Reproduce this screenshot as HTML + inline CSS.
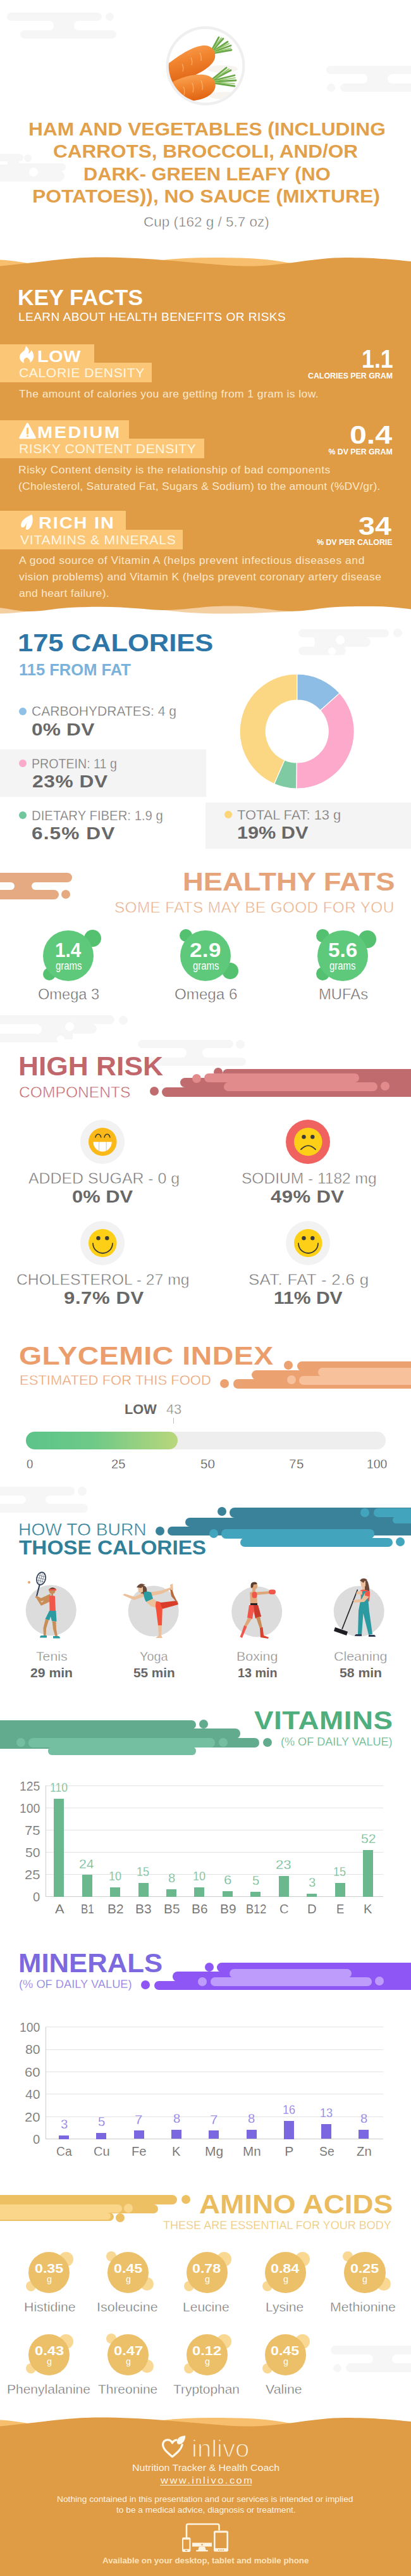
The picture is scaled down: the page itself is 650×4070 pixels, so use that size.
<!DOCTYPE html>
<html><head><meta charset="utf-8"><title>Nutrition facts</title>
<style>
html,body{margin:0;padding:0;background:#fff}
html{overflow-x:hidden}
body{width:650px;height:4070px;font-family:"Liberation Sans", sans-serif}
.page{position:relative;width:650px;height:4070px;overflow:hidden;background:#fff}
div,svg{box-sizing:border-box}
</style></head><body>
<div class="page">
<div style="position:absolute;left:10.7px;top:20.4px;width:149.9px;height:13.0px;background:#f6f6f6;border-radius:6.5px 6.5px 6.5px 6.5px"></div>
<div style="position:absolute;left:167.2px;top:20.3px;width:13.0px;height:13.0px;background:#f6f6f6;border-radius:50%;"></div>
<div style="position:absolute;left:31.6px;top:47.7px;width:152.4px;height:13.1px;background:#f6f6f6;border-radius:6.5px 6.5px 6.5px 6.5px"></div>
<div style="position:absolute;left:77.8px;top:33.4px;width:46.3px;height:14.3px;background:#f6f6f6;"></div>
<div style="position:absolute;left:70.7px;top:33.4px;width:14.3px;height:14.3px;background:#fff;border-radius:50%;"></div>
<div style="position:absolute;left:117.0px;top:33.4px;width:14.3px;height:14.3px;background:#fff;border-radius:50%;"></div>
<div style="position:absolute;left:515.7px;top:103.8px;width:144.3px;height:13.6px;background:#f6f6f6;border-radius:6.8px 6.8px 6.8px 6.8px"></div>
<div style="position:absolute;left:537.6px;top:132.0px;width:122.4px;height:13.0px;background:#f6f6f6;border-radius:6.5px 6.5px 6.5px 6.5px"></div>
<div style="position:absolute;left:516.5px;top:132.1px;width:13.0px;height:13.0px;background:#f6f6f6;border-radius:50%;"></div>
<div style="position:absolute;left:574.1px;top:117.4px;width:46.2px;height:14.6px;background:#f6f6f6;"></div>
<div style="position:absolute;left:566.8px;top:117.4px;width:14.6px;height:14.6px;background:#fff;border-radius:50%;"></div>
<div style="position:absolute;left:613.0px;top:117.4px;width:14.6px;height:14.6px;background:#fff;border-radius:50%;"></div>
<div style="position:absolute;left:-20.0px;top:243.0px;width:57.0px;height:12.0px;background:#f6f6f6;border-radius:6.0px 6.0px 6.0px 6.0px"></div>
<div style="position:absolute;left:38.0px;top:244.0px;width:12.0px;height:12.0px;background:#f6f6f6;border-radius:50%;"></div>
<div style="position:absolute;left:0.0px;top:250.0px;width:30.0px;height:10.0px;background:#f6f6f6;"></div>
<div style="position:absolute;left:-20.0px;top:257.5px;width:123.5px;height:12.5px;background:#f6f6f6;border-radius:6.2px 6.2px 6.2px 6.2px"></div>
<div style="position:absolute;left:-20.0px;top:269.0px;width:122.0px;height:18.0px;background:#f6f6f6;border-radius:9.0px 9.0px 9.0px 9.0px"></div>
<div style="position:absolute;left:0.0px;top:262.0px;width:90.0px;height:12.0px;background:#f6f6f6;"></div>
<div style="position:absolute;left:45.5px;top:264.5px;width:14.0px;height:14.0px;background:#fff;border-radius:50%;"></div>
<div style="position:absolute;left:-10.0px;top:254.5px;width:22.0px;height:5.0px;background:#fff;border-radius:2.5px 2.5px 2.5px 2.5px"></div>
<svg style="position:absolute;left:260.2px;top:39.3px" width="130" height="130" viewBox="0 0 130 130">
<defs>
<clipPath id="cc"><circle cx="65" cy="65" r="58.3"/></clipPath>
<linearGradient id="cg1" x1="0.2" y1="0" x2="0.55" y2="1"><stop offset="0" stop-color="#f8a458"/><stop offset="0.4" stop-color="#f28530"/><stop offset="1" stop-color="#de6211"/></linearGradient>
<linearGradient id="cg2" x1="0.2" y1="0" x2="0.5" y2="1"><stop offset="0" stop-color="#f9a85c"/><stop offset="0.45" stop-color="#f38832"/><stop offset="1" stop-color="#e06412"/></linearGradient>
</defs>
<circle cx="65" cy="65" r="62.5" fill="#efefef"/>
<circle cx="65" cy="65" r="58.3" fill="#fff"/>
<g clip-path="url(#cc)">
 <ellipse cx="92" cy="70" rx="24" ry="6" fill="#f7f4f0"/>
 <ellipse cx="96" cy="112" rx="26" ry="6" fill="#f7f4f0"/>
 <g stroke="#6aa84a" stroke-width="2.8" stroke-linecap="round" fill="none">
  <path d="M75,40 L86,20"/><path d="M76,41 L93,22"/><path d="M77,42 L100,27"/><path d="M77,43 L105,33"/><path d="M77,45 L106,40"/>
 </g>
 <g stroke="#93c766" stroke-width="1.7" stroke-linecap="round" fill="none">
  <path d="M76,40 L90,21"/><path d="M77,42 L102,30"/><path d="M77,44 L105,37"/>
 </g>
 <g stroke="#6aa84a" stroke-width="2.8" stroke-linecap="round" fill="none">
  <path d="M76,86 L98,68"/><path d="M77,87 L105,72"/><path d="M78,88 L111,80"/><path d="M78,90 L113,88"/><path d="M77,92 L111,97"/>
 </g>
 <g stroke="#93c766" stroke-width="1.7" stroke-linecap="round" fill="none">
  <path d="M77,87 L102,70"/><path d="M78,89 L112,84"/><path d="M78,91 L111,93"/>
 </g>
 <path d="M0,66 C14,56 38,36 60,33 C74,31.5 82,41 80,52 C77,67 52,80 22,90 C10,93 0,93 -4,91 Z" fill="url(#cg1)"/>
 <path d="M4,96 C18,86 42,77 62,79 C78,81 84,92 79,103 C73,115 52,122 32,120 C16,118 6,110 4,96 Z" fill="url(#cg2)"/>
 <path d="M28,62 q3,6 1,12 M42,52 q3,6 1,12 M56,44 q3,7 2,13" stroke="#fbbd7e" stroke-width="1.2" fill="none" opacity=".8"/>
 <path d="M30,98 q3,6 1,13 M44,92 q3,7 1,15 M58,88 q3,8 2,15" stroke="#fbbd7e" stroke-width="1.2" fill="none" opacity=".8"/>
</g>
</svg>
<div style="position:absolute;left:44.9px;top:189.8px;font-size:29.0px;line-height:1;white-space:nowrap;color:#e3a04b;font-weight:700;transform:scaleX(1.0921);transform-origin:0 0;">HAM AND VEGETABLES (INCLUDING</div>
<div style="position:absolute;left:83.9px;top:224.8px;font-size:29.0px;line-height:1;white-space:nowrap;color:#e3a04b;font-weight:700;transform:scaleX(1.0866);transform-origin:0 0;">CARROTS, BROCCOLI, AND/OR</div>
<div style="position:absolute;left:132.4px;top:260.8px;font-size:29.0px;line-height:1;white-space:nowrap;color:#e3a04b;font-weight:700;transform:scaleX(1.0603);transform-origin:0 0;">DARK- GREEN LEAFY (NO</div>
<div style="position:absolute;left:51.4px;top:295.8px;font-size:29.0px;line-height:1;white-space:nowrap;color:#e3a04b;font-weight:700;transform:scaleX(1.0973);transform-origin:0 0;">POTATOES)), NO SAUCE (MIXTURE)</div>
<div style="position:absolute;left:226.5px;top:340.6px;font-size:21.5px;line-height:1;white-space:nowrap;color:#707070;font-weight:400;-webkit-text-stroke:0.5px #fff;transform:scaleX(1.0459);transform-origin:0 0;">Cup (162 g / 5.7 oz)</div>
<svg style="position:absolute;left:0px;top:0px" width="650" height="1000" viewBox="0 0 650 1000">
<path d="M0,410.5 C15,411.3 32,413.5 52,417.5 L52,430 L0,430Z" fill="#f7bf6d"/>
<path d="M232,414 C265,409 300,407 332,407 C370,407 405,408 425,410.5 C442,412.5 452,414.5 464,416.5 L464,430 L232,430Z" fill="#f7bf6d"/>
<path d="M0,969.5 C18,969 34,967.5 47,965.5 L47,950 L0,950Z" fill="#f3cfa2"/>
<path d="M255,963.5 C290,968 320,969.5 350,969.5 C390,969.5 430,968 464,965.5 L464,950 L255,950Z" fill="#f3cfa2"/>
<path d="M0,420.5 C20,418.3 40,416 60,414 C90,410 120,407 150,406.5 C215,406 270,412 325,416.5 C352,419 380,421 404,420.5 C450,419 500,407 546,407 C590,407 620,410 650,413
 L650,962.5 C630,960 610,958 590,958 C570,958 555,958 537,958.7 C505,960 490,965.7 462,965.7 C440,965.7 425,962 400,959.5 C380,957.5 365,957.5 349,957.7 C320,958 290,964 258,964 C240,964 230,962 220,961.5 C200,960 180,958.7 160,958.7 C140,958.7 125,959.3 110,960 C85,961.5 70,966 45,966 C30,966 15,962 0,960.3 Z" fill="#e09b45"/>
</svg>
<div style="position:absolute;left:28.4px;top:453.1px;font-size:34.5px;line-height:1;white-space:nowrap;color:#ffffff;font-weight:700;transform:scaleX(1.0265);transform-origin:0 0;">KEY FACTS</div>
<div style="position:absolute;left:28.9px;top:492.3px;font-size:18.0px;line-height:1;white-space:nowrap;color:#ffffff;font-weight:400;letter-spacing:0.41px;transform:scaleX(1.0600);transform-origin:0 0;">LEARN ABOUT HEALTH BENEFITS OR RISKS</div>
<div style="position:absolute;left:0.0px;top:543.5px;width:149.0px;height:30.0px;background:#fcc677;"></div>
<div style="position:absolute;left:0.0px;top:572.9px;width:240.0px;height:31.4px;background:#fcc677;"></div>
<svg style="position:absolute;left:31.4px;top:546px" width="23" height="28" viewBox="0 0 23 28"><path d="M9.8,0.4 C12.5,2.5 14.5,5 14.8,8 C15,10 14.2,11.5 13.6,12.8 C15.8,12 17.5,10 18.3,7.2 C20.5,9.5 22.3,12.5 22.3,16.5 C22.3,21 19.5,25.5 15.8,27.3 C16.8,25.5 16.6,23.5 15.3,22 C14.3,20.8 13,19.8 11.9,18.7 C10,19 8.6,19.8 7.6,21 C6.2,22.7 6,25.5 7.2,27.7 C3.5,26.5 0,23 0,18.3 C0,15 1.5,13 3,11.5 C5,9.5 7.3,8 8.1,6.4 C9,4.6 9.8,2.5 9.8,0.4Z" fill="#fff"/></svg>
<div style="position:absolute;left:58.9px;top:550.5px;font-size:25.5px;line-height:1;white-space:nowrap;color:#ffffff;font-weight:700;letter-spacing:0.60px;transform:scaleX(1.1300);transform-origin:0 0;">LOW</div>
<div style="position:absolute;left:30.4px;top:579.3px;font-size:20.0px;line-height:1;white-space:nowrap;color:#fff6e2;font-weight:400;letter-spacing:0.51px;transform:scaleX(1.0600);transform-origin:0 0;">CALORIE DENSITY</div>
<div style="position:absolute;left:571.7px;top:547.0px;font-size:40.5px;line-height:1;white-space:nowrap;color:#ffffff;font-weight:700;transform:scaleX(0.8831);transform-origin:0 0;">1.1</div>
<div style="position:absolute;left:486.6px;top:588.1px;font-size:12.3px;line-height:1;white-space:nowrap;color:#ffffff;font-weight:700;transform:scaleX(1.0053);transform-origin:0 0;">CALORIES PER GRAM</div>
<div style="position:absolute;left:30.0px;top:614.0px;font-size:16.5px;line-height:1;white-space:nowrap;color:#fce8c8;font-weight:400;letter-spacing:0.39px;transform:scaleX(1.0600);transform-origin:0 0;">The amount of calories you are getting from 1 gram is low.</div>
<div style="position:absolute;left:0.0px;top:663.5px;width:204.2px;height:30.0px;background:#fcc677;"></div>
<div style="position:absolute;left:0.0px;top:692.9px;width:322.5px;height:31.4px;background:#fcc677;"></div>
<svg style="position:absolute;left:30px;top:667.5px" width="27" height="26" viewBox="0 0 27 26"><path d="M13.4,0.3 C14.1,0.3 14.7,0.7 15,1.3 L26.6,22.8 C27.2,24 26.4,25.3 25.1,25.3 L1.9,25.3 C0.6,25.3 -0.2,24 0.4,22.8 L11.8,1.3 C12.1,0.7 12.7,0.3 13.4,0.3Z" fill="#fff"/><rect x="12" y="7.6" width="3" height="11" rx="1.4" fill="#fcc677"/><circle cx="13.5" cy="21" r="1.5" fill="#fcc677"/></svg>
<div style="position:absolute;left:58.9px;top:670.5px;font-size:25.5px;line-height:1;white-space:nowrap;color:#ffffff;font-weight:700;letter-spacing:2.33px;transform:scaleX(1.1300);transform-origin:0 0;">MEDIUM</div>
<div style="position:absolute;left:30.4px;top:699.3px;font-size:20.0px;line-height:1;white-space:nowrap;color:#fff6e2;font-weight:400;letter-spacing:0.52px;transform:scaleX(1.0600);transform-origin:0 0;">RISKY CONTENT DENSITY</div>
<div style="position:absolute;left:553.3px;top:667.0px;font-size:40.5px;line-height:1;white-space:nowrap;color:#ffffff;font-weight:700;transform:scaleX(1.1920);transform-origin:0 0;">0.4</div>
<div style="position:absolute;left:519.5px;top:708.1px;font-size:12.3px;line-height:1;white-space:nowrap;color:#ffffff;font-weight:700;">% DV PER GRAM</div>
<div style="position:absolute;left:28.9px;top:734.0px;font-size:16.5px;line-height:1;white-space:nowrap;color:#fce8c8;font-weight:400;letter-spacing:0.48px;transform:scaleX(1.0600);transform-origin:0 0;">Risky Content density is the relationship of bad components</div>
<div style="position:absolute;left:28.9px;top:760.0px;font-size:16.5px;line-height:1;white-space:nowrap;color:#fce8c8;font-weight:400;letter-spacing:0.24px;transform:scaleX(1.0600);transform-origin:0 0;">(Cholesterol, Saturated Fat, Sugars &amp; Sodium) to the amount (%DV/gr).</div>
<div style="position:absolute;left:0.0px;top:807.3px;width:199.0px;height:30.0px;background:#fcc677;"></div>
<div style="position:absolute;left:0.0px;top:836.7px;width:288.5px;height:31.4px;background:#fcc677;"></div>
<svg style="position:absolute;left:33px;top:813.2px" width="20" height="25" viewBox="0 0 20 25"><path d="M17.5,0 C18.8,4 19.2,9 18.2,13 C17,18 14.5,22 11.5,23.6 C10,24.3 8.5,24 7.7,23 L7.9,20.5 C8.3,17 9.2,14 10.2,11.5 C9,14 7.8,16.3 6.3,18.2 C5.2,19.5 4,20.3 3,20.4 C1.2,20.3 0,19 0,17.3 C0,15 0.6,13 2,10.8 C4.5,7 9,3.5 17.5,0Z" fill="#fff"/></svg>
<div style="position:absolute;left:61.4px;top:813.5px;font-size:25.5px;line-height:1;white-space:nowrap;color:#ffffff;font-weight:700;letter-spacing:1.70px;transform:scaleX(1.1300);transform-origin:0 0;">RICH  IN</div>
<div style="position:absolute;left:31.5px;top:843.3px;font-size:20.0px;line-height:1;white-space:nowrap;color:#fff6e2;font-weight:400;letter-spacing:0.68px;transform:scaleX(1.0600);transform-origin:0 0;">VITAMINS &amp; MINERALS</div>
<div style="position:absolute;left:566.6px;top:811.0px;font-size:40.5px;line-height:1;white-space:nowrap;color:#ffffff;font-weight:700;transform:scaleX(1.1507);transform-origin:0 0;">34</div>
<div style="position:absolute;left:501.0px;top:851.1px;font-size:12.3px;line-height:1;white-space:nowrap;color:#ffffff;font-weight:700;transform:scaleX(1.0052);transform-origin:0 0;">% DV PER CALORIE</div>
<div style="position:absolute;left:30.0px;top:877.0px;font-size:16.5px;line-height:1;white-space:nowrap;color:#fce8c8;font-weight:400;letter-spacing:0.52px;transform:scaleX(1.0600);transform-origin:0 0;">A good source of Vitamin A (helps prevent infectious diseases and</div>
<div style="position:absolute;left:30.0px;top:903.0px;font-size:16.5px;line-height:1;white-space:nowrap;color:#fce8c8;font-weight:400;letter-spacing:0.40px;transform:scaleX(1.0600);transform-origin:0 0;">vision problems) and Vitamin K (helps prevent coronary artery disease</div>
<div style="position:absolute;left:30.0px;top:929.0px;font-size:16.5px;line-height:1;white-space:nowrap;color:#fce8c8;font-weight:400;letter-spacing:0.29px;transform:scaleX(1.0600);transform-origin:0 0;">and heart failure).</div>
<div style="position:absolute;left:472.0px;top:993.6px;width:142.5px;height:13.4px;background:#f6f6f6;border-radius:6.7px 6.7px 6.7px 6.7px"></div>
<div style="position:absolute;left:622.0px;top:993.4px;width:14.0px;height:14.0px;background:#f6f6f6;border-radius:50%;"></div>
<div style="position:absolute;left:505.0px;top:1006.5px;width:81.0px;height:15.0px;background:#f6f6f6;border-radius:7.5px 7.5px 7.5px 7.5px"></div>
<div style="position:absolute;left:497.0px;top:1006.5px;width:48.0px;height:22.0px;background:#f6f6f6;"></div>
<div style="position:absolute;left:472.0px;top:1021.5px;width:75.0px;height:13.5px;background:#f6f6f6;border-radius:6.8px 6.8px 6.8px 6.8px"></div>
<div style="position:absolute;left:530.6px;top:1003.5px;width:14.0px;height:14.0px;background:#fff;border-radius:50%;"></div>
<div style="position:absolute;left:519.4px;top:1023.0px;width:12.0px;height:12.0px;background:#fff;border-radius:50%;"></div>
<div style="position:absolute;left:482.5px;top:1006.5px;width:15.0px;height:15.0px;background:#fff;border-radius:50%;"></div>
<div style="position:absolute;left:27.8px;top:996.3px;font-size:39.0px;line-height:1;white-space:nowrap;color:#2f76a8;font-weight:700;transform:scaleX(1.1151);transform-origin:0 0;">175 CALORIES</div>
<div style="position:absolute;left:29.5px;top:1045.8px;font-size:25.0px;line-height:1;white-space:nowrap;color:#7bb2db;font-weight:700;transform:scaleX(1.0208);transform-origin:0 0;">115 FROM FAT</div>
<div style="position:absolute;left:0.0px;top:1183.5px;width:326.0px;height:75.5px;background:#f4f4f4;"></div>
<div style="position:absolute;left:325.0px;top:1267.5px;width:325.0px;height:73.0px;background:#f4f4f4;"></div>
<div style="position:absolute;left:30.0px;top:1117.6px;width:12.0px;height:12.0px;background:#8fc0e6;border-radius:50%;"></div>
<div style="position:absolute;left:49.5px;top:1113.5px;font-size:21.5px;line-height:1;white-space:nowrap;color:#757575;font-weight:400;-webkit-text-stroke:0.35px #fff;transform:scaleX(0.9792);transform-origin:0 0;">CARBOHYDRATES: 4 g</div>
<div style="position:absolute;left:49.9px;top:1138.8px;font-size:28.0px;line-height:1;white-space:nowrap;color:#686868;font-weight:700;letter-spacing:0.17px;transform:scaleX(1.1300);transform-origin:0 0;">0% DV</div>
<div style="position:absolute;left:30.0px;top:1199.9px;width:12.0px;height:12.0px;background:#fba9ca;border-radius:50%;"></div>
<div style="position:absolute;left:49.6px;top:1196.5px;font-size:21.5px;line-height:1;white-space:nowrap;color:#757575;font-weight:400;-webkit-text-stroke:0.35px #f4f4f4;transform:scaleX(0.9122);transform-origin:0 0;">PROTEIN: 11 g</div>
<div style="position:absolute;left:51.0px;top:1220.8px;font-size:28.0px;line-height:1;white-space:nowrap;color:#686868;font-weight:700;letter-spacing:0.54px;transform:scaleX(1.1300);transform-origin:0 0;">23% DV</div>
<div style="position:absolute;left:30.0px;top:1282.1px;width:12.0px;height:12.0px;background:#6fc79d;border-radius:50%;"></div>
<div style="position:absolute;left:49.6px;top:1278.5px;font-size:21.5px;line-height:1;white-space:nowrap;color:#757575;font-weight:400;-webkit-text-stroke:0.35px #fff;transform:scaleX(0.9453);transform-origin:0 0;">DIETARY FIBER: 1.9 g</div>
<div style="position:absolute;left:49.9px;top:1302.8px;font-size:28.0px;line-height:1;white-space:nowrap;color:#686868;font-weight:700;letter-spacing:0.94px;transform:scaleX(1.1300);transform-origin:0 0;">6.5% DV</div>
<div style="position:absolute;left:354.8px;top:1281.4px;width:12.0px;height:12.0px;background:#fbd577;border-radius:50%;"></div>
<div style="position:absolute;left:375.3px;top:1277.5px;font-size:21.5px;line-height:1;white-space:nowrap;color:#757575;font-weight:400;-webkit-text-stroke:0.35px #f4f4f4;transform:scaleX(1.0152);transform-origin:0 0;">TOTAL FAT: 13 g</div>
<div style="position:absolute;left:374.7px;top:1301.8px;font-size:28.0px;line-height:1;white-space:nowrap;color:#686868;font-weight:700;transform:scaleX(1.0946);transform-origin:0 0;">19% DV</div>
<svg style="position:absolute;left:370px;top:1055px" width="200" height="200" viewBox="0 0 200 200"><path d="M99.70,10.00 A90.5,90.5 0 0 1 167.12,40.13 L136.58,67.48 A49.5,49.5 0 0 0 99.70,51.00Z" fill="#8dbde4" stroke="#fff" stroke-width="1.2"/><path d="M167.12,40.13 A90.5,90.5 0 0 1 98.75,191.00 L99.18,150.00 A49.5,49.5 0 0 0 136.58,67.48Z" fill="#fda9cb" stroke="#fff" stroke-width="1.2"/><path d="M98.75,191.00 A90.5,90.5 0 0 1 63.64,183.51 L79.98,145.90 A49.5,49.5 0 0 0 99.18,150.00Z" fill="#7fcaa3" stroke="#fff" stroke-width="1.2"/><path d="M63.64,183.51 A90.5,90.5 0 0 1 99.70,10.00 L99.70,51.00 A49.5,49.5 0 0 0 79.98,145.90Z" fill="#fbd784" stroke="#fff" stroke-width="1.2"/></svg>
<div style="position:absolute;left:-20.0px;top:1379.0px;width:134.0px;height:15.0px;background:#e5aa82;border-radius:7.5px 7.5px 7.5px 7.5px"></div>
<div style="position:absolute;left:-20.0px;top:1406.0px;width:112.5px;height:15.0px;background:#e5aa82;border-radius:7.5px 7.5px 7.5px 7.5px"></div>
<div style="position:absolute;left:16.5px;top:1394.0px;width:39.5px;height:12.0px;background:#e5aa82;"></div>
<div style="position:absolute;left:10.5px;top:1394.0px;width:12.0px;height:12.0px;background:#fff;border-radius:50%;"></div>
<div style="position:absolute;left:50.0px;top:1394.0px;width:12.0px;height:12.0px;background:#fff;border-radius:50%;"></div>
<div style="position:absolute;left:97.0px;top:1405.5px;width:14.0px;height:14.0px;background:#e5aa82;border-radius:50%;"></div>
<div style="position:absolute;left:288.8px;top:1372.0px;font-size:41.5px;line-height:1;white-space:nowrap;color:#e6a47b;font-weight:700;transform:scaleX(1.0938);transform-origin:0 0;">HEALTHY FATS</div>
<div style="position:absolute;left:180.9px;top:1422.8px;font-size:23.0px;line-height:1;white-space:nowrap;color:#e9ae86;font-weight:400;-webkit-text-stroke:0.5px #fff;letter-spacing:0.31px;transform:scaleX(1.0600);transform-origin:0 0;">SOME FATS MAY BE GOOD FOR YOU</div>
<div style="position:absolute;left:132.8px;top:1469.0px;width:27.2px;height:27.2px;background:#53c170;border-radius:50%;"></div>
<div style="position:absolute;left:67.6px;top:1528.6px;width:20.0px;height:20.0px;background:#53c170;border-radius:50%;"></div>
<div style="position:absolute;left:68.0px;top:1470.3px;width:80.0px;height:80.0px;background:#5fc97b;border-radius:50%;"></div>
<div style="position:absolute;left:86.9px;top:1486.3px;font-size:31.0px;line-height:1;white-space:nowrap;color:#ffffff;font-weight:700;transform:scaleX(0.9564);transform-origin:0 0;">1.4</div>
<div style="position:absolute;left:87.7px;top:1517.3px;font-size:18.0px;line-height:1;white-space:nowrap;color:#ffffff;font-weight:400;transform:scaleX(0.8297);transform-origin:0 0;">grams</div>
<div style="position:absolute;left:60.0px;top:1558.5px;font-size:24.5px;line-height:1;white-space:nowrap;color:#686868;font-weight:400;-webkit-text-stroke:0.5px #fff;transform:scaleX(0.9631);transform-origin:0 0;">Omega 3</div>
<div style="position:absolute;left:284.0px;top:1467.8px;width:20.4px;height:20.4px;background:#53c170;border-radius:50%;"></div>
<div style="position:absolute;left:351.0px;top:1521.3px;width:26.0px;height:26.0px;background:#53c170;border-radius:50%;"></div>
<div style="position:absolute;left:285.0px;top:1470.3px;width:80.0px;height:80.0px;background:#5fc97b;border-radius:50%;"></div>
<div style="position:absolute;left:300.3px;top:1486.3px;font-size:31.0px;line-height:1;white-space:nowrap;color:#ffffff;font-weight:700;letter-spacing:0.30px;transform:scaleX(1.1300);transform-origin:0 0;">2.9</div>
<div style="position:absolute;left:304.6px;top:1517.3px;font-size:18.0px;line-height:1;white-space:nowrap;color:#ffffff;font-weight:400;transform:scaleX(0.8297);transform-origin:0 0;">grams</div>
<div style="position:absolute;left:275.7px;top:1558.5px;font-size:24.5px;line-height:1;white-space:nowrap;color:#686868;font-weight:400;-webkit-text-stroke:0.5px #fff;transform:scaleX(0.9863);transform-origin:0 0;">Omega 6</div>
<div style="position:absolute;left:499.5px;top:1467.5px;width:21.0px;height:21.0px;background:#53c170;border-radius:50%;"></div>
<div style="position:absolute;left:566.7px;top:1470.0px;width:28.0px;height:28.0px;background:#53c170;border-radius:50%;"></div>
<div style="position:absolute;left:500.2px;top:1528.3px;width:21.0px;height:21.0px;background:#53c170;border-radius:50%;"></div>
<div style="position:absolute;left:501.7px;top:1470.3px;width:80.0px;height:80.0px;background:#5fc97b;border-radius:50%;"></div>
<div style="position:absolute;left:519.1px;top:1486.3px;font-size:31.0px;line-height:1;white-space:nowrap;color:#ffffff;font-weight:700;transform:scaleX(1.0730);transform-origin:0 0;">5.6</div>
<div style="position:absolute;left:521.4px;top:1517.3px;font-size:18.0px;line-height:1;white-space:nowrap;color:#ffffff;font-weight:400;transform:scaleX(0.8297);transform-origin:0 0;">grams</div>
<div style="position:absolute;left:503.8px;top:1558.5px;font-size:24.5px;line-height:1;white-space:nowrap;color:#686868;font-weight:400;-webkit-text-stroke:0.5px #fff;transform:scaleX(0.9723);transform-origin:0 0;">MUFAs</div>
<div style="position:absolute;left:-20.0px;top:1604.3px;width:201.4px;height:14.0px;background:#f6f6f6;border-radius:7.0px 7.0px 7.0px 7.0px"></div>
<div style="position:absolute;left:188.2px;top:1604.5px;width:14.0px;height:14.0px;background:#f6f6f6;border-radius:50%;"></div>
<div style="position:absolute;left:61.0px;top:1618.0px;width:92.0px;height:15.4px;background:#f6f6f6;border-radius:7.7px 7.7px 7.7px 7.7px"></div>
<div style="position:absolute;left:60.0px;top:1618.0px;width:55.0px;height:24.0px;background:#f6f6f6;"></div>
<div style="position:absolute;left:-20.0px;top:1633.0px;width:120.0px;height:14.0px;background:#f6f6f6;border-radius:7.0px 7.0px 7.0px 7.0px"></div>
<div style="position:absolute;left:103.0px;top:1615.0px;width:14.0px;height:14.0px;background:#fff;border-radius:50%;"></div>
<div style="position:absolute;left:90.0px;top:1635.5px;width:12.0px;height:12.0px;background:#fff;border-radius:50%;"></div>
<div style="position:absolute;left:50.5px;top:1618.5px;width:15.0px;height:15.0px;background:#fff;border-radius:50%;"></div>
<div style="position:absolute;left:218.0px;top:1643.0px;width:150.6px;height:13.0px;background:#f6f6f6;border-radius:6.5px 6.5px 6.5px 6.5px"></div>
<div style="position:absolute;left:373.0px;top:1642.5px;width:14.0px;height:14.0px;background:#f6f6f6;border-radius:50%;"></div>
<div style="position:absolute;left:228.0px;top:1671.0px;width:161.0px;height:13.0px;background:#f6f6f6;border-radius:6.5px 6.5px 6.5px 6.5px"></div>
<div style="position:absolute;left:287.5px;top:1656.0px;width:40.0px;height:15.0px;background:#f6f6f6;"></div>
<div style="position:absolute;left:280.0px;top:1656.0px;width:15.0px;height:15.0px;background:#fff;border-radius:50%;"></div>
<div style="position:absolute;left:320.0px;top:1656.0px;width:15.0px;height:15.0px;background:#fff;border-radius:50%;"></div>
<div style="position:absolute;left:28.9px;top:1663.8px;font-size:42.0px;line-height:1;white-space:nowrap;color:#c1676b;font-weight:700;transform:scaleX(1.0550);transform-origin:0 0;">HIGH RISK</div>
<div style="position:absolute;left:30.0px;top:1713.8px;font-size:24.0px;line-height:1;white-space:nowrap;color:#c1676b;font-weight:400;-webkit-text-stroke:0.5px #fff;transform:scaleX(1.0264);transform-origin:0 0;">COMPONENTS</div>
<div style="position:absolute;left:236.5px;top:1717.0px;width:14.0px;height:14.0px;background:#c06b6e;border-radius:50%;"></div>
<div style="position:absolute;left:256.0px;top:1717.5px;width:444.0px;height:15.0px;background:#c06b6e;border-radius:7.5px 7.5px 7.5px 7.5px"></div>
<div style="position:absolute;left:285.0px;top:1702.5px;width:415.0px;height:15.5px;background:#c06b6e;border-radius:7.8px 7.8px 7.8px 7.8px"></div>
<div style="position:absolute;left:338.0px;top:1687.0px;width:14.0px;height:14.0px;background:#c06b6e;border-radius:50%;"></div>
<div style="position:absolute;left:352.0px;top:1688.5px;width:348.0px;height:15.5px;background:#c06b6e;border-radius:7.8px 7.8px 7.8px 7.8px"></div>
<div style="position:absolute;left:360.0px;top:1690.0px;width:300.0px;height:42.5px;background:#c06b6e;"></div>
<div style="position:absolute;left:304.0px;top:1697.0px;width:14.0px;height:14.0px;background:#e28b8c;border-radius:50%;"></div>
<div style="position:absolute;left:322.5px;top:1696.0px;width:245.5px;height:14.0px;background:#e28b8c;border-radius:7.0px 7.0px 7.0px 7.0px"></div>
<div style="position:absolute;left:354.0px;top:1709.5px;width:243.0px;height:14.0px;background:#e28b8c;border-radius:7.0px 7.0px 7.0px 7.0px"></div>
<div style="position:absolute;left:361.0px;top:1696.0px;width:200.0px;height:27.5px;background:#e28b8c;"></div>
<div style="position:absolute;left:602.0px;top:1709.0px;width:14.0px;height:14.0px;background:#e28b8c;border-radius:50%;"></div>
<svg style="position:absolute;left:126px;top:1767.5px" width="72" height="72" viewBox="0 0 72 72"><circle cx="36" cy="36" r="35" fill="#f2f2f2"/><circle cx="36.3" cy="36" r="22.3" fill="#fbb819"/><path d="M21.5,36.2 L50.7,36.2 A14.6,15.3 0 0 1 21.5,36.2Z" fill="#fff"/><path d="M30.6,36.2 V50.2 M42.2,36.2 V50.2" stroke="#c9c9c9" stroke-width="1.1"/><path d="M24.9,29.6 A4.45,5.6 0 0 1 33.8,29.6 M39,29.6 A4.45,5.6 0 0 1 47.9,29.6" stroke="#3b3a36" stroke-width="1.6" fill="none"/></svg>
<div style="position:absolute;left:44.5px;top:1849.5px;font-size:24.5px;line-height:1;white-space:nowrap;color:#777;font-weight:400;-webkit-text-stroke:0.5px #fff;transform:scaleX(1.0153);transform-origin:0 0;">ADDED SUGAR - 0 g</div>
<div style="position:absolute;left:113.7px;top:1877.0px;font-size:27.5px;line-height:1;white-space:nowrap;color:#686868;font-weight:700;transform:scaleX(1.1214);transform-origin:0 0;">0% DV</div>
<svg style="position:absolute;left:451.4px;top:1767.5px" width="72" height="72" viewBox="0 0 72 72"><circle cx="36" cy="36" r="35" fill="#f0625f"/><circle cx="36.3" cy="36" r="22.3" fill="#fdd017"/><circle cx="29.5" cy="28.3" r="3.2" fill="#3b3a36"/><circle cx="43.3" cy="28.3" r="3.2" fill="#3b3a36"/><path d="M25,48 Q36.4,36.3 48,48" stroke="#3b3a36" stroke-width="1.8" fill="none" stroke-linecap="round"/></svg>
<div style="position:absolute;left:381.8px;top:1849.5px;font-size:24.5px;line-height:1;white-space:nowrap;color:#777;font-weight:400;-webkit-text-stroke:0.5px #fff;transform:scaleX(1.0015);transform-origin:0 0;">SODIUM - 1182 mg</div>
<div style="position:absolute;left:428.4px;top:1877.0px;font-size:27.5px;line-height:1;white-space:nowrap;color:#686868;font-weight:700;letter-spacing:0.36px;transform:scaleX(1.1300);transform-origin:0 0;">49% DV</div>
<svg style="position:absolute;left:126px;top:1927.5px" width="72" height="72" viewBox="0 0 72 72"><circle cx="36" cy="36" r="35" fill="#f2f2f2"/><circle cx="36.3" cy="36" r="22.3" fill="#fdd017"/><circle cx="29.5" cy="28.3" r="3.2" fill="#3b3a36"/><circle cx="43.3" cy="28.3" r="3.2" fill="#3b3a36"/><path d="M21,36.5 A15.5,15.5 0 0 0 52,36.5" stroke="#3b3a36" stroke-width="1.8" fill="none" stroke-linecap="round"/></svg>
<div style="position:absolute;left:26.0px;top:2009.5px;font-size:24.5px;line-height:1;white-space:nowrap;color:#777;font-weight:400;-webkit-text-stroke:0.5px #fff;transform:scaleX(1.0075);transform-origin:0 0;">CHOLESTEROL - 27 mg</div>
<div style="position:absolute;left:101.0px;top:2037.1px;font-size:27.5px;line-height:1;white-space:nowrap;color:#686868;font-weight:700;letter-spacing:0.53px;transform:scaleX(1.1300);transform-origin:0 0;">9.7% DV</div>
<svg style="position:absolute;left:451.4px;top:1927.5px" width="72" height="72" viewBox="0 0 72 72"><circle cx="36" cy="36" r="35" fill="#f2f2f2"/><circle cx="36.3" cy="36" r="22.3" fill="#fdd017"/><circle cx="29.5" cy="28.3" r="3.2" fill="#3b3a36"/><circle cx="43.3" cy="28.3" r="3.2" fill="#3b3a36"/><path d="M21,36.5 A15.5,15.5 0 0 0 52,36.5" stroke="#3b3a36" stroke-width="1.8" fill="none" stroke-linecap="round"/></svg>
<div style="position:absolute;left:393.4px;top:2009.5px;font-size:24.5px;line-height:1;white-space:nowrap;color:#777;font-weight:400;-webkit-text-stroke:0.5px #fff;letter-spacing:0.25px;transform:scaleX(1.0600);transform-origin:0 0;">SAT. FAT - 2.6 g</div>
<div style="position:absolute;left:432.9px;top:2037.1px;font-size:27.5px;line-height:1;white-space:nowrap;color:#686868;font-weight:700;transform:scaleX(1.0936);transform-origin:0 0;">11% DV</div>
<div style="position:absolute;left:30.4px;top:2121.8px;font-size:41.0px;line-height:1;white-space:nowrap;color:#eb9e6c;font-weight:700;letter-spacing:0.50px;transform:scaleX(1.1300);transform-origin:0 0;">GLYCEMIC INDEX</div>
<div style="position:absolute;left:30.5px;top:2169.8px;font-size:22.0px;line-height:1;white-space:nowrap;color:#eb9f6f;font-weight:400;-webkit-text-stroke:0.4px #fff;transform:scaleX(1.0019);transform-origin:0 0;">ESTIMATED FOR THIS FOOD</div>
<div style="position:absolute;left:348.0px;top:2179.0px;width:14.0px;height:14.0px;background:#eca170;border-radius:50%;"></div>
<div style="position:absolute;left:369.0px;top:2179.0px;width:331.0px;height:14.5px;background:#eca170;border-radius:7.2px 7.2px 7.2px 7.2px"></div>
<div style="position:absolute;left:397.5px;top:2165.0px;width:302.5px;height:15.0px;background:#eca170;border-radius:7.5px 7.5px 7.5px 7.5px"></div>
<div style="position:absolute;left:449.0px;top:2150.0px;width:14.0px;height:14.0px;background:#eca170;border-radius:50%;"></div>
<div style="position:absolute;left:470.0px;top:2151.0px;width:230.0px;height:15.0px;background:#eca170;border-radius:7.5px 7.5px 7.5px 7.5px"></div>
<div style="position:absolute;left:480.0px;top:2151.0px;width:200.0px;height:42.5px;background:#eca170;"></div>
<div style="position:absolute;left:454.0px;top:2173.0px;width:14.0px;height:14.0px;background:#f7c19c;border-radius:50%;"></div>
<div style="position:absolute;left:472.5px;top:2174.0px;width:227.5px;height:13.5px;background:#f7c19c;border-radius:6.8px 6.8px 6.8px 6.8px"></div>
<div style="position:absolute;left:502.5px;top:2161.0px;width:197.5px;height:14.0px;background:#f7c19c;border-radius:7.0px 7.0px 7.0px 7.0px"></div>
<div style="position:absolute;left:510.0px;top:2161.0px;width:200.0px;height:26.5px;background:#f7c19c;"></div>
<div style="position:absolute;left:196.5px;top:2215.8px;font-size:22.0px;line-height:1;white-space:nowrap;color:#666;font-weight:700;transform:scaleX(0.9889);transform-origin:0 0;">LOW</div>
<div style="position:absolute;left:262.5px;top:2215.8px;font-size:22.0px;line-height:1;white-space:nowrap;color:#888;font-weight:400;-webkit-text-stroke:0.4px #fff;transform:scaleX(0.9897);transform-origin:0 0;">43</div>
<div style="position:absolute;left:274.0px;top:2240.0px;width:1.0px;height:8.5px;background:#bdbdbd;"></div>
<div style="position:absolute;left:41.0px;top:2262.0px;width:568.6px;height:28.0px;background:#eeeeee;border-radius:14.0px 14.0px 14.0px 14.0px"></div>
<div style="position:absolute;left:41px;top:2262px;width:239.6px;height:28px;border-radius:14px;background:linear-gradient(90deg,#5bc48a 0%,#6fc987 45%,#b9d77c 100%)"></div>
<div style="position:absolute;left:41.8px;top:2303.6px;font-size:19.5px;line-height:1;white-space:nowrap;color:#4a4a4a;font-weight:400;-webkit-text-stroke:0.35px #fff;transform:scaleX(0.9533);transform-origin:0 0;">0</div>
<div style="position:absolute;left:176.4px;top:2303.6px;font-size:19.5px;line-height:1;white-space:nowrap;color:#4a4a4a;font-weight:400;-webkit-text-stroke:0.35px #fff;transform:scaleX(1.0294);transform-origin:0 0;">25</div>
<div style="position:absolute;left:317.0px;top:2303.6px;font-size:19.5px;line-height:1;white-space:nowrap;color:#4a4a4a;font-weight:400;-webkit-text-stroke:0.35px #fff;transform:scaleX(1.0522);transform-origin:0 0;">50</div>
<div style="position:absolute;left:456.7px;top:2303.6px;font-size:19.5px;line-height:1;white-space:nowrap;color:#4a4a4a;font-weight:400;-webkit-text-stroke:0.35px #fff;letter-spacing:0.37px;transform:scaleX(1.0600);transform-origin:0 0;">75</div>
<div style="position:absolute;left:579.8px;top:2303.6px;font-size:19.5px;line-height:1;white-space:nowrap;color:#4a4a4a;font-weight:400;-webkit-text-stroke:0.35px #fff;transform:scaleX(0.9936);transform-origin:0 0;">100</div>
<div style="position:absolute;left:-20.0px;top:2349.3px;width:137.5px;height:13.7px;background:#f6f6f6;border-radius:6.8px 6.8px 6.8px 6.8px"></div>
<div style="position:absolute;left:123.3px;top:2349.3px;width:14.0px;height:14.0px;background:#f6f6f6;border-radius:50%;"></div>
<div style="position:absolute;left:-20.0px;top:2376.0px;width:159.0px;height:14.0px;background:#f6f6f6;border-radius:7.0px 7.0px 7.0px 7.0px"></div>
<div style="position:absolute;left:34.5px;top:2363.0px;width:43.5px;height:13.0px;background:#f6f6f6;"></div>
<div style="position:absolute;left:28.0px;top:2363.0px;width:13.0px;height:13.0px;background:#fff;border-radius:50%;"></div>
<div style="position:absolute;left:71.5px;top:2363.0px;width:13.0px;height:13.0px;background:#fff;border-radius:50%;"></div>
<div style="position:absolute;left:28.5px;top:2402.8px;font-size:28.0px;line-height:1;white-space:nowrap;color:#2f8098;font-weight:400;-webkit-text-stroke:0.5px #fff;transform:scaleX(1.0077);transform-origin:0 0;">HOW TO BURN</div>
<div style="position:absolute;left:29.5px;top:2429.6px;font-size:31.5px;line-height:1;white-space:nowrap;color:#2f8098;font-weight:700;transform:scaleX(1.0573);transform-origin:0 0;">THOSE CALORIES</div>
<div style="position:absolute;left:245.5px;top:2411.5px;width:14.0px;height:14.0px;background:#3a8299;border-radius:50%;"></div>
<div style="position:absolute;left:265.0px;top:2411.5px;width:435.0px;height:14.5px;background:#3a8299;border-radius:7.2px 7.2px 7.2px 7.2px"></div>
<div style="position:absolute;left:292.5px;top:2397.5px;width:407.5px;height:14.5px;background:#3a8299;border-radius:7.2px 7.2px 7.2px 7.2px"></div>
<div style="position:absolute;left:344.0px;top:2381.0px;width:14.0px;height:14.0px;background:#3a8299;border-radius:50%;"></div>
<div style="position:absolute;left:362.5px;top:2382.0px;width:337.5px;height:16.0px;background:#3a8299;border-radius:8.0px 8.0px 8.0px 8.0px"></div>
<div style="position:absolute;left:372.0px;top:2382.0px;width:300.0px;height:44.0px;background:#3a8299;"></div>
<div style="position:absolute;left:330.5px;top:2415.5px;width:14.0px;height:14.0px;background:#43a5bd;border-radius:50%;"></div>
<div style="position:absolute;left:350.0px;top:2416.0px;width:242.0px;height:14.5px;background:#43a5bd;border-radius:7.2px 7.2px 7.2px 7.2px"></div>
<div style="position:absolute;left:380.0px;top:2430.0px;width:241.0px;height:14.0px;background:#43a5bd;border-radius:7.0px 7.0px 7.0px 7.0px"></div>
<div style="position:absolute;left:390.0px;top:2416.0px;width:195.0px;height:28.0px;background:#43a5bd;"></div>
<div style="position:absolute;left:626.0px;top:2428.5px;width:14.0px;height:14.0px;background:#43a5bd;border-radius:50%;"></div>
<div style="position:absolute;left:570.0px;top:2382.5px;width:14.0px;height:14.0px;background:#43a5bd;border-radius:50%;"></div>
<div style="position:absolute;left:590.5px;top:2382.5px;width:109.5px;height:14.0px;background:#43a5bd;border-radius:7.0px 7.0px 7.0px 7.0px"></div>
<div style="position:absolute;left:621.0px;top:2396.0px;width:79.0px;height:11.0px;background:#43a5bd;border-radius:5.5px 5.5px 5.5px 5.5px"></div>
<svg style="position:absolute;left:25px;top:2480px" width="110" height="120" viewBox="0 0 110 120">
<circle cx="55.7" cy="64.2" r="40" fill="#dcdcdc"/>
<g transform="rotate(14 40 14)"><ellipse cx="40" cy="14" rx="7" ry="10" fill="none" stroke="#2d3b55" stroke-width="1.6"/>
<path d="M34,10 H46 M33.5,14 H46.5 M34,18 H46 M37,5 V23 M40,4 V24 M43,5 V23" stroke="#2d3b55" stroke-width=".5"/>
<path d="M40,24 L40,45" stroke="#2d3b55" stroke-width="2"/></g>
<circle cx="21" cy="20" r="2" fill="#e9a367"/>
<path d="M55,38 L40,45 L32,41 L31,44 L40,50 L55,46Z" fill="#c98d57"/>
<path d="M52,42 L41,52 L35,44 L33,46 L40,57 L55,50Z" fill="#c98d57"/>
<circle cx="57.5" cy="33.5" r="5" fill="#c98d57"/>
<path d="M52.5,31 Q57,26 63,30 L63,32.5 L52.5,32.5Z" fill="#5a3a2a"/>
<rect x="52" y="30.5" width="12" height="2.4" fill="#f0574a"/>
<path d="M56,37 h3 v5 h-3z" fill="#c98d57"/>
<path d="M53,42 Q58,40 62,42 L63,66 L53.5,66Z" fill="#f0574a"/>
<path d="M53,65 L63.5,65 L64.5,82 L57,81 L55,74 L53,80 L46.5,78Z" fill="#2b9aa1"/>
<path d="M47,78 L52,80 L48,93 L47.5,105 L44,105 L43.5,92Z" fill="#c98d57"/>
<path d="M57.5,81 L63.5,82 L64,94 L66,105 L62.5,106 L59,94Z" fill="#c98d57"/>
<path d="M40,104 h9 v3.5 h-11 q0,-3 2,-3.5z" fill="#2b9aa1"/>
<path d="M59,105 h9 q2,1 2,3.5 h-11z" fill="#2b9aa1"/>
</svg>
<svg style="position:absolute;left:185px;top:2480px" width="120" height="120" viewBox="0 0 120 120">
<circle cx="57.7" cy="65.5" r="40" fill="#dcdcdc"/>
<path d="M36,27 Q44,22 47,30 Q48,36 45,40 L38,38Z" fill="#6b4a3a"/>
<path d="M33,28 Q37,24 41,28 L41,35 Q37,38 34,35Z" fill="#ecc09a"/>
<path d="M31,28 Q36,19 45,24 Q40,24 39,29Z" fill="#6b4a3a"/>
<path d="M40,37 L28,43 L12,38 L9,40 L27,48 L44,42Z" fill="#ecc09a"/>
<path d="M50,36 L70,33 L85,28 L86,31 L71,38 L53,42Z" fill="#ecc09a"/>
<path d="M42,36 Q48,33 54,36 L57,46 L46,51 Q42,44 42,36Z" fill="#2b9aa1"/>
<path d="M46,51 L57,46 L66,52 L62,60 L54,58Z" fill="#ecc09a"/>
<path d="M62,50 Q70,50 72,56 L71,88 L65,88 L62,64 Q60,56 62,50Z" fill="#f4503a"/>
<path d="M68,52 L95,49 L97,55 L72,62Z" fill="#d93d2a"/>
<path d="M93,50 L97,54 L90,40 L87,30 L84,31 L86,42Z" fill="#b96a3f"/>
<path d="M84,24 L88,22 L89,32 L85,32Z" fill="#ecc09a"/>
<path d="M65,88 L71,88 L70,104 L72,108 L61,108 L66,104Z" fill="#ecc09a"/>
</svg>
<svg style="position:absolute;left:350px;top:2480px" width="120" height="120" viewBox="0 0 120 120">
<circle cx="56.2" cy="66.4" r="40" fill="#dcdcdc"/>
<circle cx="52" cy="26" r="5.4" fill="#dfa679"/>
<path d="M46.5,26 Q46,19 53,19.5 Q57,20 56.5,23 L51,23.5 L50,28 L47,29Z" fill="#5a3d2c"/>
<path d="M49,31 h5 v5 h-5z" fill="#dfa679"/>
<path d="M45,36 Q51,33 56,36 L57,54 L46,54Z" fill="#e2aa7c"/>
<path d="M55,35.5 L77,34 L77,38 L56,40Z" fill="#dfa679"/>
<rect x="75" y="31.5" width="11" height="7.5" rx="3.7" fill="#f0574a"/>
<path d="M47,38 L53,44 L55,40 L52,35Z" fill="#d79c6d"/>
<rect x="48.5" y="35" width="8" height="10" rx="4" fill="#f0574a"/>
<rect x="46" y="53" width="11" height="3" fill="#222"/>
<path d="M44,56 L58,56 L63,74 L54,77 L51,66 L49,78 L41,76Z" fill="#f0574a"/>
<path d="M51,56 L58,56 L63,74 L54,77Z" fill="#c93a2b"/>
<path d="M42,76 L48,78 L40,90 L36,89Z" fill="#dfa679"/>
<path d="M55,76 L61,74 L65,92 L61,93Z" fill="#c98d57"/>
<path d="M36,88 L40.5,90 L35,103 L33,108 L29.5,106 L32,100Z" fill="#f0574a"/>
<path d="M61,92 L65.5,91 L67,104 L75,107 L74,109 L62,107Z" fill="#d8432f"/>
</svg>
<svg style="position:absolute;left:510px;top:2480px" width="120" height="120" viewBox="0 0 120 120">
<circle cx="57.7" cy="65.7" r="40" fill="#dcdcdc"/>
<path d="M61,16 Q69,12 72,20 Q75,30 74,36 L66,34 L66,24Z" fill="#6b4a3a"/>
<path d="M60,18 Q64,14 68,18 L68,26 Q64,29 61,26Z" fill="#ecc09a"/>
<path d="M59,17 Q64,11 71,16 Q66,17 65,21Z" fill="#6b4a3a"/>
<path d="M63,27 h4 v5 h-4z" fill="#ecc09a"/>
<path d="M60,32.5 Q67,30 75,34.5 L74,50 L61,50Z" fill="#f0574a"/>
<path d="M63.5,34 h7.5 l1.2,12 l1.8,20 l5,36 l-6,1 l-8.5,-34 l-2.5,34 l-6,0 l1,-38 l3.2,-17z" fill="#2b9aa1"/>
<path d="M55.5,31.5 L31,94" stroke="#26262b" stroke-width="1.7"/>
<path d="M20,91 L40,98 L38,104 L18,97Z" fill="#1d1d22"/>
<path d="M62.5,33.5 L54.5,34.5 L53,38.5 L63,39.5Z" fill="#ecc09a"/>
<path d="M72,36 L74.5,42 L66,51 L50,52 L48.5,48 L62,46.5 L67,37Z" fill="#ecc09a"/>
<path d="M67.5,35 Q72,33.5 75,36.5 L74.5,43 L67,41Z" fill="#f0574a"/>
<path d="M53,102 h9 v3 h-11 q0,-2 2,-3z" fill="#2d3b55"/>
<path d="M73,103 h9 q2,1 2,3 h-11z" fill="#2d3b55"/>
</svg>
<div style="position:absolute;left:56.5px;top:2606.3px;font-size:21.0px;line-height:1;white-space:nowrap;color:#888;font-weight:400;-webkit-text-stroke:0.4px #fff;transform:scaleX(1.0097);transform-origin:0 0;">Tenis</div>
<div style="position:absolute;left:48.1px;top:2633.3px;font-size:20.0px;line-height:1;white-space:nowrap;color:#666;font-weight:700;transform:scaleX(1.0572);transform-origin:0 0;">29 min</div>
<div style="position:absolute;left:221.2px;top:2606.3px;font-size:21.0px;line-height:1;white-space:nowrap;color:#888;font-weight:400;-webkit-text-stroke:0.4px #fff;transform:scaleX(0.9421);transform-origin:0 0;">Yoga</div>
<div style="position:absolute;left:211.2px;top:2633.3px;font-size:20.0px;line-height:1;white-space:nowrap;color:#666;font-weight:700;transform:scaleX(1.0379);transform-origin:0 0;">55 min</div>
<div style="position:absolute;left:373.8px;top:2606.3px;font-size:21.0px;line-height:1;white-space:nowrap;color:#888;font-weight:400;-webkit-text-stroke:0.4px #fff;transform:scaleX(1.0186);transform-origin:0 0;">Boxing</div>
<div style="position:absolute;left:375.5px;top:2633.3px;font-size:20.0px;line-height:1;white-space:nowrap;color:#666;font-weight:700;transform:scaleX(0.9879);transform-origin:0 0;">13 min</div>
<div style="position:absolute;left:527.6px;top:2606.3px;font-size:21.0px;line-height:1;white-space:nowrap;color:#888;font-weight:400;-webkit-text-stroke:0.4px #fff;transform:scaleX(1.0194);transform-origin:0 0;">Cleaning</div>
<div style="position:absolute;left:537.1px;top:2633.3px;font-size:20.0px;line-height:1;white-space:nowrap;color:#666;font-weight:700;transform:scaleX(1.0572);transform-origin:0 0;">58 min</div>
<div style="position:absolute;left:402.0px;top:2698.1px;font-size:40.5px;line-height:1;white-space:nowrap;color:#4fae7e;font-weight:700;letter-spacing:0.49px;transform:scaleX(1.1300);transform-origin:0 0;">VITAMINS</div>
<div style="position:absolute;left:443.5px;top:2742.6px;font-size:18.5px;line-height:1;white-space:nowrap;color:#55b183;font-weight:400;-webkit-text-stroke:0.3px #fff;transform:scaleX(0.9762);transform-origin:0 0;">(% OF DAILY VALUE)</div>
<div style="position:absolute;left:-30.0px;top:2717.5px;width:340.0px;height:14.5px;background:#62ab8f;border-radius:7.2px 7.2px 7.2px 7.2px"></div>
<div style="position:absolute;left:314.5px;top:2717.0px;width:14.0px;height:14.0px;background:#62ab8f;border-radius:50%;"></div>
<div style="position:absolute;left:-30.0px;top:2731.0px;width:410.0px;height:15.5px;background:#62ab8f;border-radius:7.8px 7.8px 7.8px 7.8px"></div>
<div style="position:absolute;left:-30.0px;top:2746.0px;width:440.0px;height:14.5px;background:#62ab8f;border-radius:7.2px 7.2px 7.2px 7.2px"></div>
<div style="position:absolute;left:0.0px;top:2717.5px;width:300.0px;height:45.0px;background:#62ab8f;"></div>
<div style="position:absolute;left:415.5px;top:2746.0px;width:14.0px;height:14.0px;background:#62ab8f;border-radius:50%;"></div>
<div style="position:absolute;left:25.5px;top:2746.0px;width:14.0px;height:14.0px;background:#74bea1;border-radius:50%;"></div>
<div style="position:absolute;left:45.0px;top:2746.0px;width:295.0px;height:14.5px;background:#74bea1;border-radius:7.2px 7.2px 7.2px 7.2px"></div>
<div style="position:absolute;left:76.0px;top:2760.0px;width:234.0px;height:12.5px;background:#74bea1;border-radius:6.2px 6.2px 6.2px 6.2px"></div>
<div style="position:absolute;left:83.0px;top:2750.0px;width:220.0px;height:16.0px;background:#74bea1;"></div>
<div style="position:absolute;left:345.5px;top:2746.0px;width:14.0px;height:14.0px;background:#74bea1;border-radius:50%;"></div>
<div style="position:absolute;left:72.0px;top:2996.1px;width:533.5px;height:1.0px;background:#cdcdcd;"></div>
<div style="position:absolute;left:51.9px;top:2986.3px;font-size:21.0px;line-height:1;white-space:nowrap;color:#737373;font-weight:400;-webkit-text-stroke:0.2px #fff;transform:scaleX(0.9629);transform-origin:0 0;">0</div>
<div style="position:absolute;left:72.0px;top:2961.0px;width:533.5px;height:1.0px;background:#e3e3e3;"></div>
<div style="position:absolute;left:38.6px;top:2951.3px;font-size:21.0px;line-height:1;white-space:nowrap;color:#737373;font-weight:400;-webkit-text-stroke:0.2px #fff;transform:scaleX(1.0517);transform-origin:0 0;">25</div>
<div style="position:absolute;left:72.0px;top:2925.9px;width:533.5px;height:1.0px;background:#e3e3e3;"></div>
<div style="position:absolute;left:39.7px;top:2916.3px;font-size:21.0px;line-height:1;white-space:nowrap;color:#737373;font-weight:400;-webkit-text-stroke:0.2px #fff;transform:scaleX(1.0053);transform-origin:0 0;">50</div>
<div style="position:absolute;left:72.0px;top:2890.9px;width:533.5px;height:1.0px;background:#e3e3e3;"></div>
<div style="position:absolute;left:38.6px;top:2881.3px;font-size:21.0px;line-height:1;white-space:nowrap;color:#737373;font-weight:400;-webkit-text-stroke:0.2px #fff;transform:scaleX(1.0517);transform-origin:0 0;">75</div>
<div style="position:absolute;left:72.0px;top:2855.8px;width:533.5px;height:1.0px;background:#e3e3e3;"></div>
<div style="position:absolute;left:30.8px;top:2846.3px;font-size:21.0px;line-height:1;white-space:nowrap;color:#737373;font-weight:400;-webkit-text-stroke:0.2px #fff;transform:scaleX(0.9230);transform-origin:0 0;">100</div>
<div style="position:absolute;left:72.0px;top:2820.7px;width:533.5px;height:1.0px;background:#e3e3e3;"></div>
<div style="position:absolute;left:30.8px;top:2811.3px;font-size:21.0px;line-height:1;white-space:nowrap;color:#737373;font-weight:400;-webkit-text-stroke:0.2px #fff;transform:scaleX(0.9230);transform-origin:0 0;">125</div>
<div style="position:absolute;left:72.0px;top:2821.2px;width:1.0px;height:175.4px;background:#cdcdcd;"></div>
<div style="position:absolute;left:85.3px;top:2841.5px;width:16.0px;height:155.1px;background:#6bb88f;"></div>
<div style="position:absolute;left:79.2px;top:2813.3px;font-size:21.0px;line-height:1;white-space:nowrap;color:#6bb88f;font-weight:400;-webkit-text-stroke:0.3px #fff;transform:scaleX(0.8363);transform-origin:0 0;">110</div>
<div style="position:absolute;left:86.5px;top:3005.3px;font-size:21.0px;line-height:1;white-space:nowrap;color:#6e6e6e;font-weight:400;-webkit-text-stroke:0.15px #fff;transform:scaleX(1.0422);transform-origin:0 0;">A</div>
<div style="position:absolute;left:129.7px;top:2962.2px;width:16.0px;height:34.4px;background:#6bb88f;"></div>
<div style="position:absolute;left:125.3px;top:2934.3px;font-size:21.0px;line-height:1;white-space:nowrap;color:#6bb88f;font-weight:400;-webkit-text-stroke:0.3px #fff;transform:scaleX(1.0053);transform-origin:0 0;">24</div>
<div style="position:absolute;left:127.8px;top:3005.3px;font-size:21.0px;line-height:1;white-space:nowrap;color:#6e6e6e;font-weight:400;-webkit-text-stroke:0.15px #fff;transform:scaleX(0.8039);transform-origin:0 0;">B1</div>
<div style="position:absolute;left:174.2px;top:2981.9px;width:16.0px;height:14.7px;background:#6bb88f;"></div>
<div style="position:absolute;left:172.0px;top:2953.3px;font-size:21.0px;line-height:1;white-space:nowrap;color:#6bb88f;font-weight:400;-webkit-text-stroke:0.3px #fff;transform:scaleX(0.8579);transform-origin:0 0;">10</div>
<div style="position:absolute;left:169.8px;top:3005.3px;font-size:21.0px;line-height:1;white-space:nowrap;color:#6e6e6e;font-weight:400;-webkit-text-stroke:0.15px #fff;transform:scaleX(0.9913);transform-origin:0 0;">B2</div>
<div style="position:absolute;left:218.6px;top:2974.9px;width:16.0px;height:21.7px;background:#6bb88f;"></div>
<div style="position:absolute;left:216.4px;top:2946.3px;font-size:21.0px;line-height:1;white-space:nowrap;color:#6bb88f;font-weight:400;-webkit-text-stroke:0.3px #fff;transform:scaleX(0.8579);transform-origin:0 0;">15</div>
<div style="position:absolute;left:214.2px;top:3005.3px;font-size:21.0px;line-height:1;white-space:nowrap;color:#6e6e6e;font-weight:400;-webkit-text-stroke:0.15px #fff;transform:scaleX(0.9913);transform-origin:0 0;">B3</div>
<div style="position:absolute;left:263.0px;top:2984.7px;width:16.0px;height:11.9px;background:#6bb88f;"></div>
<div style="position:absolute;left:265.7px;top:2956.3px;font-size:21.0px;line-height:1;white-space:nowrap;color:#6bb88f;font-weight:400;-webkit-text-stroke:0.3px #fff;transform:scaleX(0.9629);transform-origin:0 0;">8</div>
<div style="position:absolute;left:258.6px;top:3005.3px;font-size:21.0px;line-height:1;white-space:nowrap;color:#6e6e6e;font-weight:400;-webkit-text-stroke:0.15px #fff;transform:scaleX(0.9913);transform-origin:0 0;">B5</div>
<div style="position:absolute;left:307.4px;top:2981.9px;width:16.0px;height:14.7px;background:#6bb88f;"></div>
<div style="position:absolute;left:305.3px;top:2953.3px;font-size:21.0px;line-height:1;white-space:nowrap;color:#6bb88f;font-weight:400;-webkit-text-stroke:0.3px #fff;transform:scaleX(0.8579);transform-origin:0 0;">10</div>
<div style="position:absolute;left:303.1px;top:3005.3px;font-size:21.0px;line-height:1;white-space:nowrap;color:#6e6e6e;font-weight:400;-webkit-text-stroke:0.15px #fff;transform:scaleX(0.9913);transform-origin:0 0;">B6</div>
<div style="position:absolute;left:351.9px;top:2987.5px;width:16.0px;height:9.1px;background:#6bb88f;"></div>
<div style="position:absolute;left:353.5px;top:2959.3px;font-size:21.0px;line-height:1;white-space:nowrap;color:#6bb88f;font-weight:400;-webkit-text-stroke:0.3px #fff;transform:scaleX(1.0591);transform-origin:0 0;">6</div>
<div style="position:absolute;left:347.5px;top:3005.3px;font-size:21.0px;line-height:1;white-space:nowrap;color:#6e6e6e;font-weight:400;-webkit-text-stroke:0.15px #fff;transform:scaleX(0.9913);transform-origin:0 0;">B9</div>
<div style="position:absolute;left:396.3px;top:2988.9px;width:16.0px;height:7.7px;background:#6bb88f;"></div>
<div style="position:absolute;left:399.0px;top:2960.3px;font-size:21.0px;line-height:1;white-space:nowrap;color:#6bb88f;font-weight:400;-webkit-text-stroke:0.3px #fff;transform:scaleX(0.9629);transform-origin:0 0;">5</div>
<div style="position:absolute;left:388.5px;top:3005.3px;font-size:21.0px;line-height:1;white-space:nowrap;color:#6e6e6e;font-weight:400;-webkit-text-stroke:0.15px #fff;transform:scaleX(0.8628);transform-origin:0 0;">B12</div>
<div style="position:absolute;left:440.7px;top:2963.6px;width:16.0px;height:33.0px;background:#6bb88f;"></div>
<div style="position:absolute;left:436.3px;top:2935.3px;font-size:21.0px;line-height:1;white-space:nowrap;color:#6bb88f;font-weight:400;-webkit-text-stroke:0.3px #fff;transform:scaleX(1.0517);transform-origin:0 0;">23</div>
<div style="position:absolute;left:441.5px;top:3005.3px;font-size:21.0px;line-height:1;white-space:nowrap;color:#6e6e6e;font-weight:400;-webkit-text-stroke:0.15px #fff;transform:scaleX(0.9638);transform-origin:0 0;">C</div>
<div style="position:absolute;left:485.2px;top:2991.7px;width:16.0px;height:4.9px;background:#6bb88f;"></div>
<div style="position:absolute;left:487.9px;top:2963.3px;font-size:21.0px;line-height:1;white-space:nowrap;color:#6bb88f;font-weight:400;-webkit-text-stroke:0.3px #fff;transform:scaleX(0.9629);transform-origin:0 0;">3</div>
<div style="position:absolute;left:486.0px;top:3005.3px;font-size:21.0px;line-height:1;white-space:nowrap;color:#6e6e6e;font-weight:400;-webkit-text-stroke:0.15px #fff;transform:scaleX(0.9638);transform-origin:0 0;">D</div>
<div style="position:absolute;left:529.6px;top:2974.9px;width:16.0px;height:21.7px;background:#6bb88f;"></div>
<div style="position:absolute;left:527.4px;top:2946.3px;font-size:21.0px;line-height:1;white-space:nowrap;color:#6bb88f;font-weight:400;-webkit-text-stroke:0.3px #fff;transform:scaleX(0.8579);transform-origin:0 0;">15</div>
<div style="position:absolute;left:531.5px;top:3005.3px;font-size:21.0px;line-height:1;white-space:nowrap;color:#6e6e6e;font-weight:400;-webkit-text-stroke:0.15px #fff;transform:scaleX(0.8840);transform-origin:0 0;">E</div>
<div style="position:absolute;left:574.0px;top:2922.9px;width:16.0px;height:73.7px;background:#6bb88f;"></div>
<div style="position:absolute;left:570.6px;top:2894.3px;font-size:21.0px;line-height:1;white-space:nowrap;color:#6bb88f;font-weight:400;-webkit-text-stroke:0.3px #fff;transform:scaleX(1.0053);transform-origin:0 0;">52</div>
<div style="position:absolute;left:575.3px;top:3005.3px;font-size:21.0px;line-height:1;white-space:nowrap;color:#6e6e6e;font-weight:400;-webkit-text-stroke:0.15px #fff;transform:scaleX(0.9609);transform-origin:0 0;">K</div>
<div style="position:absolute;left:29.4px;top:3080.8px;font-size:42.0px;line-height:1;white-space:nowrap;color:#7c68df;font-weight:700;transform:scaleX(1.0401);transform-origin:0 0;">MINERALS</div>
<div style="position:absolute;left:29.5px;top:3125.6px;font-size:18.5px;line-height:1;white-space:nowrap;color:#8270e1;font-weight:400;-webkit-text-stroke:0.3px #fff;transform:scaleX(0.9873);transform-origin:0 0;">(% OF DAILY VALUE)</div>
<div style="position:absolute;left:223.0px;top:3129.0px;width:14.0px;height:14.0px;background:#8e57f5;border-radius:50%;"></div>
<div style="position:absolute;left:244.0px;top:3130.0px;width:456.0px;height:14.0px;background:#8e57f5;border-radius:7.0px 7.0px 7.0px 7.0px"></div>
<div style="position:absolute;left:272.5px;top:3115.0px;width:427.5px;height:15.5px;background:#8e57f5;border-radius:7.8px 7.8px 7.8px 7.8px"></div>
<div style="position:absolute;left:324.0px;top:3100.5px;width:14.0px;height:14.0px;background:#8e57f5;border-radius:50%;"></div>
<div style="position:absolute;left:342.5px;top:3101.0px;width:357.5px;height:15.0px;background:#8e57f5;border-radius:7.5px 7.5px 7.5px 7.5px"></div>
<div style="position:absolute;left:352.0px;top:3101.0px;width:320.0px;height:43.0px;background:#8e57f5;"></div>
<div style="position:absolute;left:313.0px;top:3123.5px;width:14.0px;height:14.0px;background:#bd9cfb;border-radius:50%;"></div>
<div style="position:absolute;left:332.5px;top:3124.0px;width:255.0px;height:13.5px;background:#bd9cfb;border-radius:6.8px 6.8px 6.8px 6.8px"></div>
<div style="position:absolute;left:362.5px;top:3111.0px;width:193.5px;height:14.0px;background:#bd9cfb;border-radius:7.0px 7.0px 7.0px 7.0px"></div>
<div style="position:absolute;left:370.0px;top:3111.0px;width:180.0px;height:26.5px;background:#bd9cfb;"></div>
<div style="position:absolute;left:593.0px;top:3123.0px;width:14.0px;height:14.0px;background:#bd9cfb;border-radius:50%;"></div>
<div style="position:absolute;left:72.0px;top:3379.0px;width:533.5px;height:1.0px;background:#cdcdcd;"></div>
<div style="position:absolute;left:51.9px;top:3369.3px;font-size:21.0px;line-height:1;white-space:nowrap;color:#737373;font-weight:400;-webkit-text-stroke:0.2px #fff;transform:scaleX(0.9629);transform-origin:0 0;">0</div>
<div style="position:absolute;left:72.0px;top:3343.6px;width:533.5px;height:1.0px;background:#e3e3e3;"></div>
<div style="position:absolute;left:38.6px;top:3334.3px;font-size:21.0px;line-height:1;white-space:nowrap;color:#737373;font-weight:400;-webkit-text-stroke:0.2px #fff;transform:scaleX(1.0517);transform-origin:0 0;">20</div>
<div style="position:absolute;left:72.0px;top:3308.2px;width:533.5px;height:1.0px;background:#e3e3e3;"></div>
<div style="position:absolute;left:39.7px;top:3298.3px;font-size:21.0px;line-height:1;white-space:nowrap;color:#737373;font-weight:400;-webkit-text-stroke:0.2px #fff;transform:scaleX(1.0053);transform-origin:0 0;">40</div>
<div style="position:absolute;left:72.0px;top:3272.9px;width:533.5px;height:1.0px;background:#e3e3e3;"></div>
<div style="position:absolute;left:38.6px;top:3263.3px;font-size:21.0px;line-height:1;white-space:nowrap;color:#737373;font-weight:400;-webkit-text-stroke:0.2px #fff;transform:scaleX(1.0517);transform-origin:0 0;">60</div>
<div style="position:absolute;left:72.0px;top:3237.5px;width:533.5px;height:1.0px;background:#e3e3e3;"></div>
<div style="position:absolute;left:39.7px;top:3227.3px;font-size:21.0px;line-height:1;white-space:nowrap;color:#737373;font-weight:400;-webkit-text-stroke:0.2px #fff;transform:scaleX(1.0053);transform-origin:0 0;">80</div>
<div style="position:absolute;left:72.0px;top:3202.1px;width:533.5px;height:1.0px;background:#e3e3e3;"></div>
<div style="position:absolute;left:30.8px;top:3192.3px;font-size:21.0px;line-height:1;white-space:nowrap;color:#737373;font-weight:400;-webkit-text-stroke:0.2px #fff;transform:scaleX(0.9230);transform-origin:0 0;">100</div>
<div style="position:absolute;left:72.0px;top:3202.6px;width:1.0px;height:176.9px;background:#cdcdcd;"></div>
<div style="position:absolute;left:93.0px;top:3373.5px;width:16.0px;height:6.0px;background:#7b68e0;"></div>
<div style="position:absolute;left:95.7px;top:3345.3px;font-size:21.0px;line-height:1;white-space:nowrap;color:#8273e2;font-weight:400;-webkit-text-stroke:0.3px #fff;transform:scaleX(0.9629);transform-origin:0 0;">3</div>
<div style="position:absolute;left:88.6px;top:3388.3px;font-size:21.0px;line-height:1;white-space:nowrap;color:#6e6e6e;font-weight:400;-webkit-text-stroke:0.15px #fff;transform:scaleX(0.9167);transform-origin:0 0;">Ca</div>
<div style="position:absolute;left:152.3px;top:3370.0px;width:16.0px;height:9.5px;background:#7b68e0;"></div>
<div style="position:absolute;left:155.0px;top:3341.3px;font-size:21.0px;line-height:1;white-space:nowrap;color:#8273e2;font-weight:400;-webkit-text-stroke:0.3px #fff;transform:scaleX(0.9629);transform-origin:0 0;">5</div>
<div style="position:absolute;left:147.8px;top:3388.3px;font-size:21.0px;line-height:1;white-space:nowrap;color:#6e6e6e;font-weight:400;-webkit-text-stroke:0.15px #fff;transform:scaleX(0.9531);transform-origin:0 0;">Cu</div>
<div style="position:absolute;left:211.6px;top:3366.4px;width:16.0px;height:13.1px;background:#7b68e0;"></div>
<div style="position:absolute;left:213.2px;top:3338.3px;font-size:21.0px;line-height:1;white-space:nowrap;color:#8273e2;font-weight:400;-webkit-text-stroke:0.3px #fff;transform:scaleX(1.0591);transform-origin:0 0;">7</div>
<div style="position:absolute;left:208.1px;top:3388.3px;font-size:21.0px;line-height:1;white-space:nowrap;color:#6e6e6e;font-weight:400;-webkit-text-stroke:0.15px #fff;transform:scaleX(0.9634);transform-origin:0 0;">Fe</div>
<div style="position:absolute;left:270.9px;top:3364.6px;width:16.0px;height:14.9px;background:#7b68e0;"></div>
<div style="position:absolute;left:273.6px;top:3336.3px;font-size:21.0px;line-height:1;white-space:nowrap;color:#8273e2;font-weight:400;-webkit-text-stroke:0.3px #fff;transform:scaleX(0.9629);transform-origin:0 0;">8</div>
<div style="position:absolute;left:272.2px;top:3388.3px;font-size:21.0px;line-height:1;white-space:nowrap;color:#6e6e6e;font-weight:400;-webkit-text-stroke:0.15px #fff;transform:scaleX(0.9609);transform-origin:0 0;">K</div>
<div style="position:absolute;left:330.2px;top:3366.4px;width:16.0px;height:13.1px;background:#7b68e0;"></div>
<div style="position:absolute;left:331.8px;top:3338.3px;font-size:21.0px;line-height:1;white-space:nowrap;color:#8273e2;font-weight:400;-webkit-text-stroke:0.3px #fff;transform:scaleX(1.0591);transform-origin:0 0;">7</div>
<div style="position:absolute;left:324.0px;top:3388.3px;font-size:21.0px;line-height:1;white-space:nowrap;color:#6e6e6e;font-weight:400;-webkit-text-stroke:0.15px #fff;">Mg</div>
<div style="position:absolute;left:389.5px;top:3364.6px;width:16.0px;height:14.9px;background:#7b68e0;"></div>
<div style="position:absolute;left:392.2px;top:3336.3px;font-size:21.0px;line-height:1;white-space:nowrap;color:#8273e2;font-weight:400;-webkit-text-stroke:0.3px #fff;transform:scaleX(0.9629);transform-origin:0 0;">8</div>
<div style="position:absolute;left:383.5px;top:3388.3px;font-size:21.0px;line-height:1;white-space:nowrap;color:#6e6e6e;font-weight:400;-webkit-text-stroke:0.15px #fff;transform:scaleX(0.9815);transform-origin:0 0;">Mn</div>
<div style="position:absolute;left:448.8px;top:3350.5px;width:16.0px;height:29.0px;background:#7b68e0;"></div>
<div style="position:absolute;left:446.6px;top:3322.3px;font-size:21.0px;line-height:1;white-space:nowrap;color:#8273e2;font-weight:400;-webkit-text-stroke:0.3px #fff;transform:scaleX(0.8579);transform-origin:0 0;">16</div>
<div style="position:absolute;left:450.3px;top:3388.3px;font-size:21.0px;line-height:1;white-space:nowrap;color:#6e6e6e;font-weight:400;-webkit-text-stroke:0.15px #fff;">P</div>
<div style="position:absolute;left:508.1px;top:3355.8px;width:16.0px;height:23.7px;background:#7b68e0;"></div>
<div style="position:absolute;left:505.9px;top:3327.3px;font-size:21.0px;line-height:1;white-space:nowrap;color:#8273e2;font-weight:400;-webkit-text-stroke:0.3px #fff;transform:scaleX(0.8579);transform-origin:0 0;">13</div>
<div style="position:absolute;left:505.1px;top:3388.3px;font-size:21.0px;line-height:1;white-space:nowrap;color:#6e6e6e;font-weight:400;-webkit-text-stroke:0.15px #fff;transform:scaleX(0.9197);transform-origin:0 0;">Se</div>
<div style="position:absolute;left:567.4px;top:3364.6px;width:16.0px;height:14.9px;background:#7b68e0;"></div>
<div style="position:absolute;left:570.1px;top:3336.3px;font-size:21.0px;line-height:1;white-space:nowrap;color:#8273e2;font-weight:400;-webkit-text-stroke:0.3px #fff;transform:scaleX(0.9629);transform-origin:0 0;">8</div>
<div style="position:absolute;left:564.4px;top:3388.3px;font-size:21.0px;line-height:1;white-space:nowrap;color:#6e6e6e;font-weight:400;-webkit-text-stroke:0.15px #fff;transform:scaleX(0.9649);transform-origin:0 0;">Zn</div>
<div style="position:absolute;left:314.9px;top:3461.8px;font-size:42.0px;line-height:1;white-space:nowrap;color:#ebbc5e;font-weight:700;transform:scaleX(1.0905);transform-origin:0 0;">AMINO ACIDS</div>
<div style="position:absolute;left:258.0px;top:3506.6px;font-size:18.5px;line-height:1;white-space:nowrap;color:#edc269;font-weight:400;-webkit-text-stroke:0.35px #fff;transform:scaleX(0.9750);transform-origin:0 0;">THESE ARE ESSENTIAL FOR YOUR BODY</div>
<div style="position:absolute;left:-30.0px;top:3467.5px;width:310.0px;height:15.5px;background:#edc064;border-radius:7.8px 7.8px 7.8px 7.8px"></div>
<div style="position:absolute;left:287.0px;top:3468.0px;width:14.0px;height:14.0px;background:#edc064;border-radius:50%;"></div>
<div style="position:absolute;left:-30.0px;top:3482.5px;width:280.0px;height:14.0px;background:#edc064;border-radius:7.0px 7.0px 7.0px 7.0px"></div>
<div style="position:absolute;left:-30.0px;top:3496.0px;width:210.0px;height:13.0px;background:#edc064;border-radius:6.5px 6.5px 6.5px 6.5px"></div>
<div style="position:absolute;left:0.0px;top:3467.5px;width:170.0px;height:41.5px;background:#edc064;"></div>
<div style="position:absolute;left:183.0px;top:3496.5px;width:14.0px;height:14.0px;background:#edc064;border-radius:50%;"></div>
<div style="position:absolute;left:-30.0px;top:3482.5px;width:222.5px;height:13.5px;background:#fad68b;border-radius:6.8px 6.8px 6.8px 6.8px"></div>
<div style="position:absolute;left:-30.0px;top:3495.5px;width:205.0px;height:11.0px;background:#fad68b;border-radius:5.5px 5.5px 5.5px 5.5px"></div>
<div style="position:absolute;left:195.5px;top:3482.0px;width:14.0px;height:14.0px;background:#fad68b;border-radius:50%;"></div>
<div style="position:absolute;left:93.3px;top:3557.9px;width:22.8px;height:22.8px;background:#f8d892;border-radius:50%;"></div>
<div style="position:absolute;left:41.2px;top:3603.5px;width:16.0px;height:16.0px;background:#f8d892;border-radius:50%;"></div>
<div style="position:absolute;left:44.9px;top:3557.5px;width:65.6px;height:65.6px;background:#ecbf69;border-radius:50%;"></div>
<div style="position:absolute;left:54.7px;top:3573.3px;font-size:21.0px;line-height:1;white-space:nowrap;color:#ffffff;font-weight:700;transform:scaleX(1.1045);transform-origin:0 0;">0.35</div>
<div style="position:absolute;left:73.9px;top:3593.3px;font-size:15.0px;line-height:1;white-space:nowrap;color:#ffffff;font-weight:400;transform:scaleX(0.9498);transform-origin:0 0;">g</div>
<div style="position:absolute;left:37.5px;top:3634.3px;font-size:21.0px;line-height:1;white-space:nowrap;color:#6e6e6e;font-weight:400;-webkit-text-stroke:0.45px #fff;transform:scaleX(1.0144);transform-origin:0 0;">Histidine</div>
<div style="position:absolute;left:167.7px;top:3556.7px;width:16.0px;height:16.0px;background:#f8d892;border-radius:50%;"></div>
<div style="position:absolute;left:221.9px;top:3597.8px;width:21.4px;height:21.4px;background:#f8d892;border-radius:50%;"></div>
<div style="position:absolute;left:169.9px;top:3557.5px;width:65.6px;height:65.6px;background:#ecbf69;border-radius:50%;"></div>
<div style="position:absolute;left:179.6px;top:3573.3px;font-size:21.0px;line-height:1;white-space:nowrap;color:#ffffff;font-weight:700;transform:scaleX(1.1045);transform-origin:0 0;">0.45</div>
<div style="position:absolute;left:198.9px;top:3593.3px;font-size:15.0px;line-height:1;white-space:nowrap;color:#ffffff;font-weight:400;transform:scaleX(0.9498);transform-origin:0 0;">g</div>
<div style="position:absolute;left:153.0px;top:3634.3px;font-size:21.0px;line-height:1;white-space:nowrap;color:#6e6e6e;font-weight:400;-webkit-text-stroke:0.45px #fff;transform:scaleX(1.0228);transform-origin:0 0;">Isoleucine</div>
<div style="position:absolute;left:342.9px;top:3557.9px;width:22.8px;height:22.8px;background:#f8d892;border-radius:50%;"></div>
<div style="position:absolute;left:290.8px;top:3603.5px;width:16.0px;height:16.0px;background:#f8d892;border-radius:50%;"></div>
<div style="position:absolute;left:294.5px;top:3557.5px;width:65.6px;height:65.6px;background:#ecbf69;border-radius:50%;"></div>
<div style="position:absolute;left:304.2px;top:3573.3px;font-size:21.0px;line-height:1;white-space:nowrap;color:#ffffff;font-weight:700;transform:scaleX(1.1045);transform-origin:0 0;">0.78</div>
<div style="position:absolute;left:323.5px;top:3593.3px;font-size:15.0px;line-height:1;white-space:nowrap;color:#ffffff;font-weight:400;transform:scaleX(0.9498);transform-origin:0 0;">g</div>
<div style="position:absolute;left:289.0px;top:3634.3px;font-size:21.0px;line-height:1;white-space:nowrap;color:#6e6e6e;font-weight:400;-webkit-text-stroke:0.45px #fff;transform:scaleX(1.0016);transform-origin:0 0;">Leucine</div>
<div style="position:absolute;left:467.1px;top:3557.9px;width:22.8px;height:22.8px;background:#f8d892;border-radius:50%;"></div>
<div style="position:absolute;left:415.0px;top:3603.5px;width:16.0px;height:16.0px;background:#f8d892;border-radius:50%;"></div>
<div style="position:absolute;left:418.7px;top:3557.5px;width:65.6px;height:65.6px;background:#ecbf69;border-radius:50%;"></div>
<div style="position:absolute;left:428.4px;top:3573.3px;font-size:21.0px;line-height:1;white-space:nowrap;color:#ffffff;font-weight:700;transform:scaleX(1.1045);transform-origin:0 0;">0.84</div>
<div style="position:absolute;left:447.7px;top:3593.3px;font-size:15.0px;line-height:1;white-space:nowrap;color:#ffffff;font-weight:400;transform:scaleX(0.9498);transform-origin:0 0;">g</div>
<div style="position:absolute;left:419.5px;top:3634.3px;font-size:21.0px;line-height:1;white-space:nowrap;color:#6e6e6e;font-weight:400;-webkit-text-stroke:0.45px #fff;transform:scaleX(1.0041);transform-origin:0 0;">Lysine</div>
<div style="position:absolute;left:542.0px;top:3556.7px;width:16.0px;height:16.0px;background:#f8d892;border-radius:50%;"></div>
<div style="position:absolute;left:596.2px;top:3597.8px;width:21.4px;height:21.4px;background:#f8d892;border-radius:50%;"></div>
<div style="position:absolute;left:544.2px;top:3557.5px;width:65.6px;height:65.6px;background:#ecbf69;border-radius:50%;"></div>
<div style="position:absolute;left:554.0px;top:3573.3px;font-size:21.0px;line-height:1;white-space:nowrap;color:#ffffff;font-weight:700;transform:scaleX(1.1045);transform-origin:0 0;">0.25</div>
<div style="position:absolute;left:573.2px;top:3593.3px;font-size:15.0px;line-height:1;white-space:nowrap;color:#ffffff;font-weight:400;transform:scaleX(0.9498);transform-origin:0 0;">g</div>
<div style="position:absolute;left:522.0px;top:3634.3px;font-size:21.0px;line-height:1;white-space:nowrap;color:#6e6e6e;font-weight:400;-webkit-text-stroke:0.45px #fff;transform:scaleX(1.0113);transform-origin:0 0;">Methionine</div>
<div style="position:absolute;left:93.3px;top:3688.0px;width:22.8px;height:22.8px;background:#f8d892;border-radius:50%;"></div>
<div style="position:absolute;left:41.2px;top:3733.6px;width:16.0px;height:16.0px;background:#f8d892;border-radius:50%;"></div>
<div style="position:absolute;left:44.9px;top:3687.6px;width:65.6px;height:65.6px;background:#ecbf69;border-radius:50%;"></div>
<div style="position:absolute;left:54.7px;top:3703.3px;font-size:21.0px;line-height:1;white-space:nowrap;color:#ffffff;font-weight:700;letter-spacing:0.02px;transform:scaleX(1.1300);transform-origin:0 0;">0.43</div>
<div style="position:absolute;left:73.9px;top:3723.3px;font-size:15.0px;line-height:1;white-space:nowrap;color:#ffffff;font-weight:400;transform:scaleX(0.9498);transform-origin:0 0;">g</div>
<div style="position:absolute;left:11.0px;top:3764.3px;font-size:21.0px;line-height:1;white-space:nowrap;color:#6e6e6e;font-weight:400;-webkit-text-stroke:0.45px #fff;">Phenylalanine</div>
<div style="position:absolute;left:167.7px;top:3686.8px;width:16.0px;height:16.0px;background:#f8d892;border-radius:50%;"></div>
<div style="position:absolute;left:221.9px;top:3727.9px;width:21.4px;height:21.4px;background:#f8d892;border-radius:50%;"></div>
<div style="position:absolute;left:169.9px;top:3687.6px;width:65.6px;height:65.6px;background:#ecbf69;border-radius:50%;"></div>
<div style="position:absolute;left:179.6px;top:3703.3px;font-size:21.0px;line-height:1;white-space:nowrap;color:#ffffff;font-weight:700;letter-spacing:0.02px;transform:scaleX(1.1300);transform-origin:0 0;">0.47</div>
<div style="position:absolute;left:198.9px;top:3723.3px;font-size:15.0px;line-height:1;white-space:nowrap;color:#ffffff;font-weight:400;transform:scaleX(0.9498);transform-origin:0 0;">g</div>
<div style="position:absolute;left:154.5px;top:3764.3px;font-size:21.0px;line-height:1;white-space:nowrap;color:#6e6e6e;font-weight:400;-webkit-text-stroke:0.45px #fff;transform:scaleX(0.9959);transform-origin:0 0;">Threonine</div>
<div style="position:absolute;left:342.9px;top:3688.0px;width:22.8px;height:22.8px;background:#f8d892;border-radius:50%;"></div>
<div style="position:absolute;left:290.8px;top:3733.6px;width:16.0px;height:16.0px;background:#f8d892;border-radius:50%;"></div>
<div style="position:absolute;left:294.5px;top:3687.6px;width:65.6px;height:65.6px;background:#ecbf69;border-radius:50%;"></div>
<div style="position:absolute;left:304.2px;top:3703.3px;font-size:21.0px;line-height:1;white-space:nowrap;color:#ffffff;font-weight:700;letter-spacing:0.02px;transform:scaleX(1.1300);transform-origin:0 0;">0.12</div>
<div style="position:absolute;left:323.5px;top:3723.3px;font-size:15.0px;line-height:1;white-space:nowrap;color:#ffffff;font-weight:400;transform:scaleX(0.9498);transform-origin:0 0;">g</div>
<div style="position:absolute;left:273.7px;top:3764.3px;font-size:21.0px;line-height:1;white-space:nowrap;color:#6e6e6e;font-weight:400;-webkit-text-stroke:0.45px #fff;transform:scaleX(0.9955);transform-origin:0 0;">Tryptophan</div>
<div style="position:absolute;left:467.1px;top:3688.0px;width:22.8px;height:22.8px;background:#f8d892;border-radius:50%;"></div>
<div style="position:absolute;left:415.0px;top:3733.6px;width:16.0px;height:16.0px;background:#f8d892;border-radius:50%;"></div>
<div style="position:absolute;left:418.7px;top:3687.6px;width:65.6px;height:65.6px;background:#ecbf69;border-radius:50%;"></div>
<div style="position:absolute;left:428.4px;top:3703.3px;font-size:21.0px;line-height:1;white-space:nowrap;color:#ffffff;font-weight:700;transform:scaleX(1.1045);transform-origin:0 0;">0.45</div>
<div style="position:absolute;left:447.7px;top:3723.3px;font-size:15.0px;line-height:1;white-space:nowrap;color:#ffffff;font-weight:400;transform:scaleX(0.9498);transform-origin:0 0;">g</div>
<div style="position:absolute;left:420.0px;top:3764.3px;font-size:21.0px;line-height:1;white-space:nowrap;color:#6e6e6e;font-weight:400;-webkit-text-stroke:0.45px #fff;transform:scaleX(1.0152);transform-origin:0 0;">Valine</div>
<div style="position:absolute;left:523.0px;top:3706.0px;width:137.0px;height:14.0px;background:#f6f6f6;border-radius:7.0px 7.0px 7.0px 7.0px"></div>
<div style="position:absolute;left:547.0px;top:3734.0px;width:113.0px;height:14.0px;background:#f6f6f6;border-radius:7.0px 7.0px 7.0px 7.0px"></div>
<div style="position:absolute;left:526.5px;top:3734.5px;width:13.0px;height:13.0px;background:#f6f6f6;border-radius:50%;"></div>
<div style="position:absolute;left:583.0px;top:3720.0px;width:44.0px;height:14.0px;background:#f6f6f6;"></div>
<div style="position:absolute;left:576.0px;top:3720.0px;width:14.0px;height:14.0px;background:#fff;border-radius:50%;"></div>
<div style="position:absolute;left:620.0px;top:3720.0px;width:14.0px;height:14.0px;background:#fff;border-radius:50%;"></div>
<svg style="position:absolute;left:0px;top:3413px" width="650" height="657" viewBox="0 0 650 657">
<path d="M0,410.5 C15,411.3 32,413.5 52,417.5 L52,430 L0,430Z" fill="#f7bf6d"/>
<path d="M232,414 C265,409 300,407 332,407 C370,407 405,408 425,410.5 C442,412.5 452,414.5 464,416.5 L464,430 L232,430Z" fill="#f7bf6d"/>
<path d="M0,420.5 C20,418.3 40,416 60,414 C90,410 120,407 150,406.5 C215,406 270,412 325,416.5 C352,419 380,421 404,420.5 C450,419 500,407 546,407 C590,407 620,410 650,413 L650,700 L0,700Z" fill="#e09b45"/>
</svg>
<svg style="position:absolute;left:250px;top:3843px" width="50" height="50" viewBox="0 0 50 50"><path d="M29,12.2 C26.5,12.5 24,14 22.5,16.8 C21,13.5 18,11.9 14.8,11.9 C10.5,11.9 7.6,15.2 7.6,19.3 C7.6,27 16,33 22.5,38.6 C29,33 36.5,27.5 38.2,19.5" fill="none" stroke="#fffaf0" stroke-width="3.2" stroke-linecap="round" stroke-linejoin="round"/>
<path d="M43.2,5.3 C37,5.5 32,8 30.6,11.5 C29.3,14.5 29.6,17 31,18.3 C33,19.6 36.5,18.8 39,16.5 C41.8,13.8 43.3,9.8 43.2,5.3Z" fill="#fffaf0"/></svg>
<div style="position:absolute;left:303.4px;top:3849.3px;font-size:39.0px;line-height:1;white-space:nowrap;color:#fdf3e1;font-weight:400;-webkit-text-stroke:1.3px #e09b45;transform:scaleX(1.0269);transform-origin:0 0;">inlivo</div>
<div style="position:absolute;left:208.5px;top:3891.1px;font-size:15.5px;line-height:1;white-space:nowrap;color:#fdf3e1;font-weight:400;transform:scaleX(1.0291);transform-origin:0 0;">Nutrition Tracker &amp; Health Coach</div>
<div style="position:absolute;left:254.1px;top:3911.1px;font-size:15.5px;line-height:1;white-space:nowrap;color:#fdf3e1;font-weight:400;letter-spacing:2.37px;transform:scaleX(1.0600);transform-origin:0 0;">www.inlivo.com</div>
<div style="position:absolute;left:253.0px;top:3925.5px;width:145.0px;height:1.0px;background:#fdf3e1;"></div>
<div style="position:absolute;left:90.0px;top:3942.2px;font-size:13.3px;line-height:1;white-space:nowrap;color:#fdf3e1;font-weight:400;transform:scaleX(1.0338);transform-origin:0 0;">Nothing contained in this presentation and our services is intended or implied</div>
<div style="position:absolute;left:184.0px;top:3959.2px;font-size:13.3px;line-height:1;white-space:nowrap;color:#fdf3e1;font-weight:400;transform:scaleX(1.0319);transform-origin:0 0;">to be a medical advice, diagnosis or treatment.</div>
<svg style="position:absolute;left:287px;top:3986px" width="76" height="48" viewBox="0 0 76 48">
<path d="M8,29 V4.5 Q8,2 10.5,2 H57 Q59.5,2 59.5,4.5 V12" fill="none" stroke="#fdf3e1" stroke-width="2.6"/>
<rect x="17" y="31.5" width="31" height="6" fill="#fdf3e1"/><circle cx="32.5" cy="34.5" r="1.3" fill="#e09b45"/>
<path d="M28,37.5 h9 l1.8,5.5 h3 v2.2 h-18.6 v-2.2 h3z" fill="#fdf3e1"/>
<rect x="1" y="23" width="13.4" height="23" rx="2.2" fill="#fdf3e1"/><rect x="3" y="26.5" width="9.4" height="15" fill="#e09b45"/><rect x="6" y="43" width="3.4" height="1.4" fill="#e09b45"/>
<rect x="51" y="12.5" width="23" height="33" rx="2.6" fill="#fdf3e1"/><rect x="53.6" y="15.6" width="17.8" height="24.5" fill="#e09b45"/>
<circle cx="59" cy="43" r="1" fill="#e09b45"/><circle cx="62.5" cy="43" r="1" fill="#e09b45"/><circle cx="66" cy="43" r="1" fill="#e09b45"/>
</svg>
<div style="position:absolute;left:162.0px;top:4040.1px;font-size:12.5px;line-height:1;white-space:nowrap;color:#fbe3bb;font-weight:700;transform:scaleX(1.0674);transform-origin:0 0;">Available on your desktop, tablet and mobile phone</div>
</div>
</body></html>
